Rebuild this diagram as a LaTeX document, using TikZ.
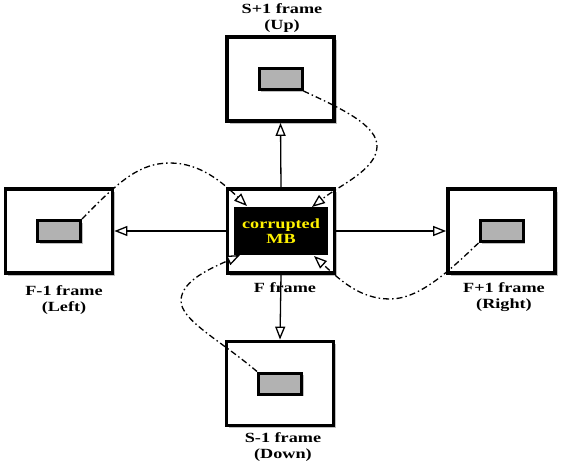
\documentclass[tikz,border=0pt]{standalone}
\usepackage{fontspec}
\setmainfont{Liberation Serif}[FakeStretch=1.3]
\usetikzlibrary{arrows.meta,shadows}
\begin{document}
\begin{tikzpicture}[x=1pt,y=-1pt,
  frame/.style={draw, line width=3.8pt, fill=white, minimum width=107pt, minimum height=84pt, inner sep=0pt,
    drop shadow={shadow xshift=2.5pt, shadow yshift=-2.5pt, opacity=0.25, fill=black}},
  block/.style={draw, line width=3pt, fill=black!30, minimum width=43pt, minimum height=21pt, inner sep=0pt,
    drop shadow={shadow xshift=2pt, shadow yshift=-2pt, opacity=0.25, fill=black}},
  mb/.style={fill=black, text=yellow, minimum width=94pt, minimum height=48pt, inner sep=0pt, align=center,
    font=\bfseries\fontsize{14}{15.5}\selectfont},
  lbl/.style={font=\bfseries\fontsize{14}{16.5}\selectfont, align=center, inner sep=0pt},
  link/.style={line width=1.3pt, -{Triangle[length=13pt,width=10pt,fill=white]}},
  curve/.style={line width=1.3pt, dash pattern=on 6pt off 3pt on 1.5pt off 3pt, -{Triangle[length=13pt,width=10pt,fill=white]}}
]
\useasboundingbox (0,0) rectangle (568,463);
% frames
\node[frame] (up) at (280.5,79) {};
\node[block] (upb) at (up) {};
\node[frame] (left) at (59,231) {};
\node[block] (leftb) at (left) {};
\node[frame] (right) at (501.5,231) {};
\node[block] (rightb) at (right) {};
\node[frame] (down) at (280,383.5) {};
\node[block] (downb) at (down) {};
\node[frame] (f) at (281,231) {};
\node[mb] (mb) at (f) {corrupted\\MB};
% labels
\node[lbl] (uplbl) at (282,18) {S+1 frame\\(Up)};
\node[lbl] (flbl) at (285,288) {F frame};
\node[lbl] (leftlbl) at (64,300) {F-1 frame\\(Left)};
\node[lbl] (rightlbl) at (504,297) {F+1 frame\\(Right)};
\node[lbl] (downlbl) at (283,447) {S-1 frame\\(Down)};
% straight connectors
\draw[link] (f.north) -- (up.south);
\draw[link] (f.south) -- (down.north);
\draw[link] (f.west) -- (left.east);
\draw[link] (f.east) -- (right.west);
% arrow tip targets
\coordinate (t1) at (312,207);
\coordinate (t2) at (247,206);
\coordinate (t3) at (240,255);
\coordinate (t4) at (314,256);
% dash-dot curves
\draw[curve] (upb.south east) .. controls (340,108) and (378,125) .. (377,147) .. controls (376,170) and (340,185) .. (t1);
\draw[curve] (leftb.north east) .. controls (120,180) and (140,163) .. (170,163) .. controls (200,163) and (222,182) .. (t2);
\draw[curve] (downb.north west) .. controls (220,340) and (180,320) .. (181,300) .. controls (182,280) and (212,268) .. (t3);
\draw[curve] (rightb.south west) .. controls (450,270) and (420,299) .. (390,299) .. controls (360,299) and (340,280) .. (t4);
\end{tikzpicture}
\end{document}
